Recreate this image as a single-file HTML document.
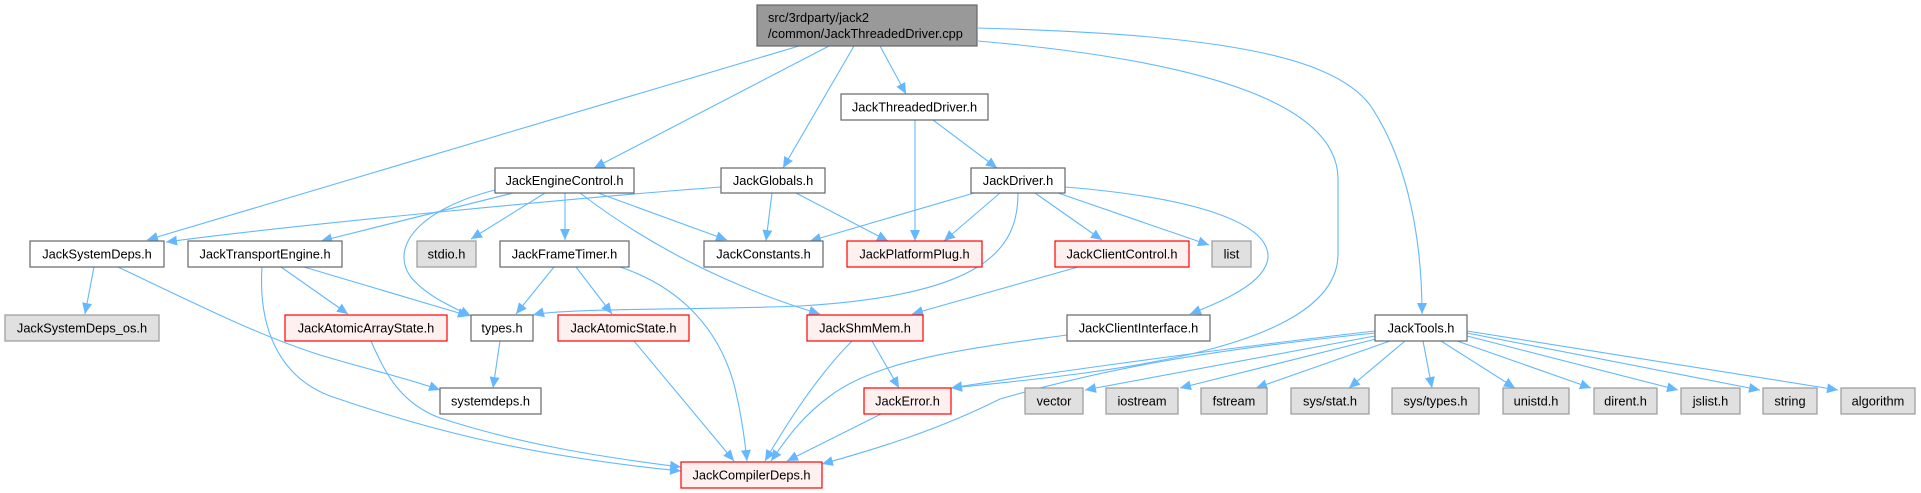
<!DOCTYPE html>
<html><head><meta charset="utf-8"><style>
html,body{margin:0;padding:0;background:#fff;width:1921px;height:493px;overflow:hidden}
svg{display:block}
text{font-family:"Liberation Sans",Arial,sans-serif;font-size:12.8px;fill:#000}
.e{fill:none;stroke:#63b8ff;stroke-width:1.1}
.w{fill:#fff;stroke:#666;stroke-width:1.2}
.g{fill:#e0e0e0;stroke:#999;stroke-width:1.2}
.r{fill:#fff0f0;stroke:#f00;stroke-width:1.2}
.root{fill:#999;stroke:#666;stroke-width:1.2}
</style></head><body>
<svg width="1921" height="493" viewBox="0 0 1921 493" xmlns="http://www.w3.org/2000/svg">
<defs><marker id="a" markerUnits="userSpaceOnUse" markerWidth="12" markerHeight="10" refX="11" refY="5" orient="auto"><path d="M0,0 L11,5 L0,10 z" fill="#63b8ff"/></marker></defs>
<g marker-end="url(#a)">
<path class="e" d="M799,46 L147,240"/>
<path class="e" d="M829,46 L594,168"/>
<path class="e" d="M854,46 L783,168"/>
<path class="e" d="M880,46 L906,94"/>
<path class="e" d="M978,41 C1150,56 1338,90 1338,179 L1338,254 C1338,351 1100,373 951,388"/>
<path class="e" d="M978,28 C1200,34 1330,52 1370,105 C1410,164 1422,246 1422,314"/>
<path class="e" d="M915,120 L915,241"/>
<path class="e" d="M933,120 L997,168"/>
<path class="e" d="M721,187 C600,196 300,224 166,242"/>
<path class="e" d="M772,193 L766,241"/>
<path class="e" d="M796,193 L888,241"/>
<path class="e" d="M513,193 L321,241"/>
<path class="e" d="M495,190 C420,209 390,246 410,276 C425,295 450,306 471,316"/>
<path class="e" d="M545,193 L471,239"/>
<path class="e" d="M565,193 L565,240"/>
<path class="e" d="M580,193 C640,239 720,284 820,314"/>
<path class="e" d="M598,193 L727,240"/>
<path class="e" d="M974,193 L810,241"/>
<path class="e" d="M1000,193 L944,241"/>
<path class="e" d="M1018,193 C1018,246 990,295 800,306 C700,310 560,308 533,315"/>
<path class="e" d="M1035,193 L1102,240"/>
<path class="e" d="M1058,193 L1209,245"/>
<path class="e" d="M1065,187 C1200,198 1270,224 1268,258 C1265,284 1220,302 1190,314"/>
<path class="e" d="M1078,267 L912,314"/>
<path class="e" d="M94,267 L85,314"/>
<path class="e" d="M118,267 C200,306 260,336 320,355 C370,370 410,379 440,390"/>
<path class="e" d="M281,267 L348,314"/>
<path class="e" d="M304,267 L469,316"/>
<path class="e" d="M262,267 C258,329 280,377 330,396 C420,427 520,455 681,471"/>
<path class="e" d="M371,341 C385,373 400,403 440,418 C520,444 600,457 681,467"/>
<path class="e" d="M500,341 L493,388"/>
<path class="e" d="M554,267 L516,314"/>
<path class="e" d="M576,267 L612,314"/>
<path class="e" d="M620,267 C680,287 720,329 735,388 C742,418 745,441 747,461"/>
<path class="e" d="M634,341 L734,461"/>
<path class="e" d="M852,341 C820,373 790,418 765,461"/>
<path class="e" d="M872,341 L899,388"/>
<path class="e" d="M1067,335 C980,347 880,358 830,396 C800,418 785,441 771,461"/>
<path class="e" d="M881,414 L787,461"/>
<path class="e" d="M1375,331 C1200,351 1000,380 951,388"/>
<path class="e" d="M1375,333 C1200,351 1100,370 1000,399 C940,429 880,448 822,464"/>
<path class="e" d="M1375,336 L1085,390"/>
<path class="e" d="M1380,338 L1180,388"/>
<path class="e" d="M1390,341 L1256,388"/>
<path class="e" d="M1405,341 L1349,388"/>
<path class="e" d="M1423,341 L1432,388"/>
<path class="e" d="M1441,341 L1515,388"/>
<path class="e" d="M1457,341 L1591,388"/>
<path class="e" d="M1467,336 L1678,390"/>
<path class="e" d="M1467,333 L1760,390"/>
<path class="e" d="M1467,331 L1838,390"/>
</g>
<rect class="root" x="757" y="5" width="220" height="41"/>
<text x="768" y="22">src/3rdparty/jack2</text>
<text x="768" y="38">/common/JackThreadedDriver.cpp</text>
<g text-anchor="middle">
<rect class="w" x="841" y="94" width="147" height="26"/><text x="914.5" y="111.5">JackThreadedDriver.h</text>
<rect class="w" x="495" y="168" width="139" height="25"/><text x="564.5" y="185">JackEngineControl.h</text>
<rect class="w" x="721" y="168" width="104" height="25"/><text x="773" y="185">JackGlobals.h</text>
<rect class="w" x="971" y="168" width="94" height="25"/><text x="1018" y="185">JackDriver.h</text>
<rect class="w" x="30" y="241" width="134" height="26"/><text x="97" y="258.5">JackSystemDeps.h</text>
<rect class="w" x="188" y="241" width="154" height="26"/><text x="265" y="258.5">JackTransportEngine.h</text>
<rect class="g" x="417" y="241" width="59" height="26"/><text x="446.5" y="258.5">stdio.h</text>
<rect class="w" x="500" y="241" width="129" height="26"/><text x="564.5" y="258.5">JackFrameTimer.h</text>
<rect class="w" x="704" y="241" width="119" height="26"/><text x="763.5" y="258.5">JackConstants.h</text>
<rect class="r" x="847" y="241" width="135" height="26"/><text x="914.5" y="258.5">JackPlatformPlug.h</text>
<rect class="r" x="1055" y="241" width="134" height="26"/><text x="1122" y="258.5">JackClientControl.h</text>
<rect class="g" x="1212" y="241" width="39" height="26"/><text x="1231.5" y="258.5">list</text>
<rect class="g" x="5" y="315" width="154" height="26"/><text x="82" y="332.5">JackSystemDeps_os.h</text>
<rect class="r" x="285" y="315" width="162" height="26"/><text x="366" y="332.5">JackAtomicArrayState.h</text>
<rect class="w" x="471" y="315" width="62" height="26"/><text x="502" y="332.5">types.h</text>
<rect class="r" x="558" y="315" width="131" height="26"/><text x="623.5" y="332.5">JackAtomicState.h</text>
<rect class="r" x="807" y="315" width="116" height="26"/><text x="865" y="332.5">JackShmMem.h</text>
<rect class="w" x="1067" y="315" width="143" height="26"/><text x="1138.5" y="332.5">JackClientInterface.h</text>
<rect class="w" x="1375" y="315" width="92" height="26"/><text x="1421" y="332.5">JackTools.h</text>
<rect class="w" x="440" y="388" width="101" height="26"/><text x="490.5" y="405.5">systemdeps.h</text>
<rect class="r" x="864" y="388" width="87" height="26"/><text x="907.5" y="405.5">JackError.h</text>
<rect class="g" x="1025" y="388" width="58" height="26"/><text x="1054" y="405.5">vector</text>
<rect class="g" x="1106" y="388" width="72" height="26"/><text x="1142" y="405.5">iostream</text>
<rect class="g" x="1201" y="388" width="66" height="26"/><text x="1234" y="405.5">fstream</text>
<rect class="g" x="1291" y="388" width="78" height="26"/><text x="1330" y="405.5">sys/stat.h</text>
<rect class="g" x="1392" y="388" width="87" height="26"/><text x="1435.5" y="405.5">sys/types.h</text>
<rect class="g" x="1503" y="388" width="66" height="26"/><text x="1536" y="405.5">unistd.h</text>
<rect class="g" x="1594" y="388" width="63" height="26"/><text x="1625.5" y="405.5">dirent.h</text>
<rect class="g" x="1681" y="388" width="59" height="26"/><text x="1710.5" y="405.5">jslist.h</text>
<rect class="g" x="1763" y="388" width="54" height="26"/><text x="1790" y="405.5">string</text>
<rect class="g" x="1841" y="388" width="74" height="26"/><text x="1878" y="405.5">algorithm</text>
<rect class="r" x="681" y="462" width="141" height="26"/><text x="751.5" y="479.5">JackCompilerDeps.h</text>
</g>
</svg>
</body></html>
